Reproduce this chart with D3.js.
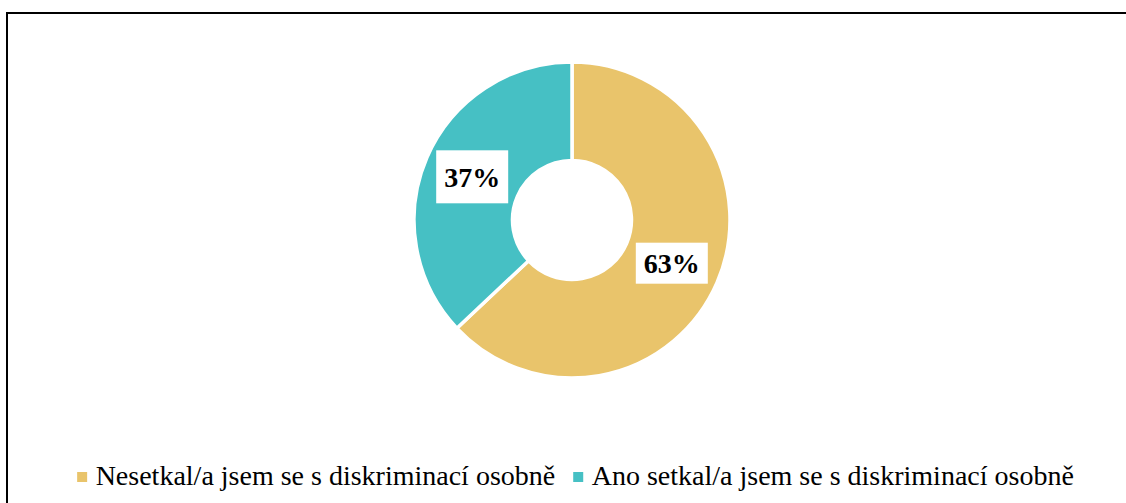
<!DOCTYPE html>
<html lang="cs">
<head>
<meta charset="UTF-8">
<title>Diskriminace</title>
<style>
    body { margin: 0; background: #fff; }
    svg { display: block; }
</style>
<script src="https://d3js.org/d3.v7.min.js"></script>
</head>
<body>
<div id="chart"></div>
<script>
// data
var categories = ["Nesetkal/a jsem se s diskriminací osobně", "Ano setkal/a jsem se s diskriminací osobně"];
var values = [63, 37];
var labels = ["63%", "37%"];
var colors = ["#E9C46B", "#46C0C4"];

var W = 1126, H = 503;
var cx = 572, cy = 220, rOuter = 158, rInner = 59.5;

var svg = d3.select("#chart").append("svg")
    .attr("width", W)
    .attr("height", H);

// outer frame (right and bottom edges run off the picture)
svg.append("rect")
    .attr("x", 7).attr("y", 13)
    .attr("width", W + 10).attr("height", H + 10)
    .attr("fill", "#fff")
    .attr("stroke", "#000")
    .attr("stroke-width", 2);

var data = categories.map(function(c, i) {
    return { name: c, value: values[i], label: labels[i], color: colors[i] };
});

var pie = d3.pie().sort(null).value(function(d) { return d.value; });
var arc = d3.arc().innerRadius(rInner).outerRadius(rOuter);

var g = svg.append("g").attr("transform", "translate(" + cx + "," + cy + ")");

var arcs = pie(data);

g.selectAll("path.slice")
    .data(arcs)
    .enter()
    .append("path")
    .attr("class", "slice")
    .attr("d", arc)
    .attr("fill", function(d) { return d.data.color; })
    .attr("stroke", "#fff")
    .attr("stroke-width", 3.5)
    .attr("stroke-linejoin", "miter");

// data labels in white boxes
var lab = g.selectAll("g.lab")
    .data(arcs)
    .enter()
    .append("g")
    .attr("class", "lab")
    .attr("transform", function(d) { return "translate(" + arc.centroid(d) + ")"; });

lab.append("rect")
    .attr("x", -36)
    .attr("width", 72)
    .attr("y", function(d, i) { return i === 0 ? -20.5 : -26.5; })
    .attr("height", function(d, i) { return i === 0 ? 41 : 53; })
    .attr("fill", "#fff");

lab.append("text")
    .attr("text-anchor", "middle")
    .attr("dy", "0.36em")
    .style("font-family", "'Liberation Serif', 'Times New Roman', serif")
    .style("font-weight", "bold")
    .style("font-size", "28px")
    .attr("fill", "#000")
    .text(function(d) { return d.data.label; });

// legend
var legend = svg.append("g");
var items = legend.selectAll("g.item")
    .data(data)
    .enter()
    .append("g")
    .attr("class", "item");

items.append("rect")
    .attr("width", 10).attr("height", 10)
    .attr("y", 472)
    .attr("fill", function(d) { return d.color; });

items.append("text")
    .attr("x", 18.5)
    .attr("y", 485)
    .style("font-family", "'Liberation Serif', 'Times New Roman', serif")
    .style("font-size", "28px")
    .attr("fill", "#000")
    .text(function(d) { return d.name; });

var widths = [];
items.each(function() { widths.push(this.getBBox().width); });
var gap = 18;
var total = d3.sum(widths) + gap * (widths.length - 1);
var x0 = 575.5 - total / 2;
items.attr("transform", function(d, i) {
    var x = x0 + d3.sum(widths.slice(0, i)) + gap * i;
    return "translate(" + x + ",0)";
});
</script>
</body>
</html>
